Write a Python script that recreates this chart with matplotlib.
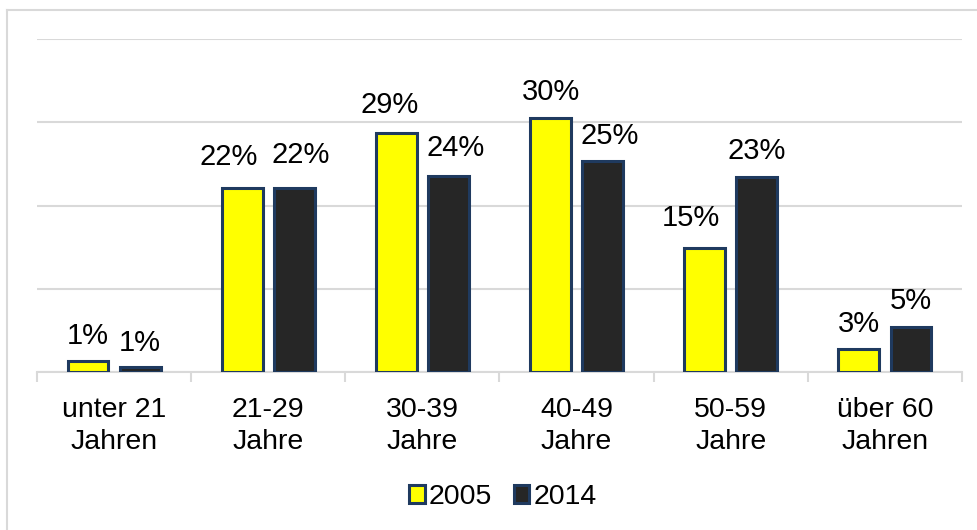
import matplotlib
matplotlib.use("Agg")
import matplotlib.pyplot as plt
from matplotlib.lines import Line2D
from matplotlib.patches import Patch
import numpy as np

plt.rcParams['font.family'] = ['Liberation Sans', 'DejaVu Sans']

categories = ["unter 21\nJahren", "21-29\nJahre", "30-39\nJahre", "40-49\nJahre", "50-59\nJahre", "über 60\nJahren"]
series_names = ["2005", "2014"]
values_2005 = [1.3, 22.1, 28.7, 30.5, 14.9, 2.8]
values_2014 = [0.6, 22.1, 23.5, 25.3, 23.4, 5.4]
labels_2005 = ["1%", "22%", "29%", "30%", "15%", "3%"]
labels_2014 = ["1%", "22%", "24%", "25%", "23%", "5%"]

# label placement nudges (pixels): horizontal shift, gap above bar top to text baseline
dx_2005 = [0, -14, -7, 0, -14, 0]
dy_2005 = [17, 23, 20, 18, 22, 17]
dx_2014 = [0, 6, 7, 7, 0, 0]
dy_2014 = [16, 25, 20, 17, 18, 18]

W, H = 978, 530
FS = 20.5
PX = 0.72  # points per pixel at dpi 100
fig = plt.figure(figsize=(W / 100, H / 100), dpi=100)
ax = fig.add_axes([37 / W, (H - 372) / H, (962 - 37) / W, (372 - 39) / H])

x = np.arange(len(categories))
bw = 0.265
off = 0.169
edge = "#1F3A5F"
elw = 2.2
b1 = ax.bar(x - off, values_2005, bw, color="#FFFF00", edgecolor=edge, linewidth=elw, zorder=3)
b2 = ax.bar(x + off, values_2014, bw, color="#262626", edgecolor=edge, linewidth=elw, zorder=3)

for bars, labs, dxs, dys in [(b1, labels_2005, dx_2005, dy_2005), (b2, labels_2014, dx_2014, dy_2014)]:
    for rect, lab, dx, dy in zip(bars, labs, dxs, dys):
        ax.annotate(lab, (rect.get_x() + rect.get_width() / 2, rect.get_height()),
                    xytext=(dx * PX, dy * PX), textcoords="offset points",
                    ha="center", va="baseline", fontsize=21)

ax.set_xlim(-0.5, len(categories) - 0.5)
ax.set_ylim(0, 40)
ax.set_yticks([0, 10, 20, 30, 40])
ax.yaxis.grid(True, color="#d9d9d9", linewidth=1.5, zorder=0)
ax.set_axisbelow(True)
ax.tick_params(axis="y", left=False, labelleft=False)
for s in ["top", "right", "left"]:
    ax.spines[s].set_visible(False)
ax.spines["bottom"].set_color("#d9d9d9")
ax.spines["bottom"].set_linewidth(1.5)

ax.set_xticks(x)
ax.set_xticklabels(categories, fontsize=FS, linespacing=1.32)
ax.tick_params(axis="x", which="major", length=0, pad=18)
ax.set_xticks(np.arange(-0.5, len(categories), 1.0), minor=True)
ax.tick_params(axis="x", which="minor", length=7, width=1.5, color="#d9d9d9")

handles = [Patch(facecolor="#FFFF00", edgecolor=edge, linewidth=elw, label=series_names[0]),
           Patch(facecolor="#262626", edgecolor=edge, linewidth=elw, label=series_names[1])]
fig.legend(handles=handles, loc="center", bbox_to_anchor=(503 / W, (H - 497) / H), ncol=2,
           frameon=False, fontsize=FS, handlelength=0.55, handleheight=0.55,
           handletextpad=0.15, columnspacing=0.75, borderpad=0)

# outer frame (top and left lines)
fig.add_artist(Line2D([7 / W, 1], [(H - 9.5) / H, (H - 9.5) / H], color="#d9d9d9", lw=1.5))
fig.add_artist(Line2D([7 / W, 7 / W], [0, (H - 9.5) / H], color="#d9d9d9", lw=1.5))

fig.savefig("out.png", dpi=100)
